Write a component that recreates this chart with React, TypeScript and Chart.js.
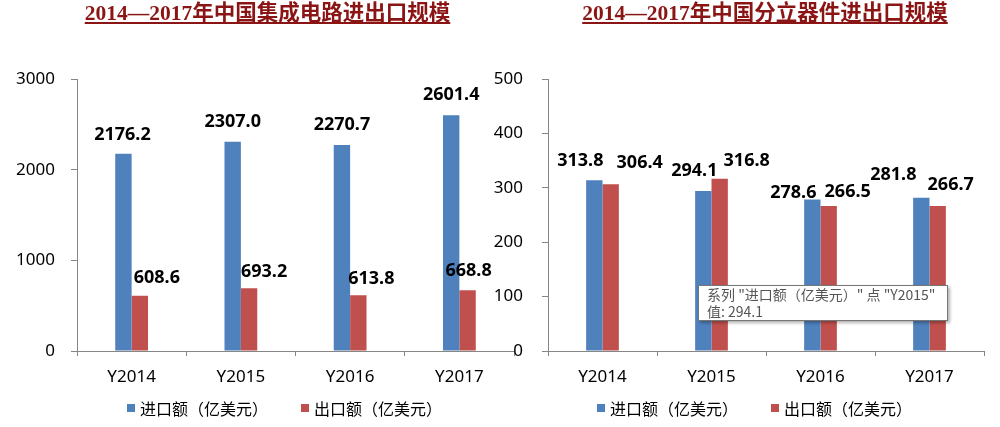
import React, { useEffect, useRef } from "react";
import { Chart, registerables } from "chart.js";

Chart.register(...registerables);

const categories = ["Y2014", "Y2015", "Y2016", "Y2017"];
const seriesNames = ["进口额（亿美元）", "出口额（亿美元）"];
const icImports = [2176.2, 2307.0, 2270.7, 2601.4];
const icExports = [608.6, 693.2, 613.8, 668.8];
const discreteImports = [313.8, 294.1, 278.6, 281.8];
const discreteExports = [306.4, 316.8, 266.5, 266.7];
const icAxis = { max: 3000, step: 1000 };
const discreteAxis = { max: 500, step: 100 };
const titles = ["2014—2017年中国集成电路进出口规模", "2014—2017年中国分立器件进出口规模"];

// label nudges [dx, dy-above-bar-top] (style only)
const icLabelNudge = [
  [[-1, 19], [0, 20], [0, 20], [0, 20]],
  [[17, 18], [15, 16], [13, 16], [1, 19]],
];
const discreteLabelNudge = [
  [[-14, 19], [-9, 20], [-19, 7], [-28, 23]],
  [[29, 21], [27, 18], [19, 14], [13, 21]],
];

const BLUE = "#4F81BD";
const RED = "#C0504D";
const AXIS = "#868686";
const FONT = "'Noto Sans', 'Noto Sans CJK SC', sans-serif";
const CJK = "'Noto Sans CJK SC', 'Noto Sans', sans-serif";

type BarProps = {
  imports: number[];
  exports: number[];
  max: number;
  step: number;
  width: number;
  yWidth: number;
  padRight: number;
  yTickPad: number;
  nudge: number[][][];
  left: number;
};

function BarChart(p: BarProps) {
  const ref = useRef<HTMLCanvasElement>(null);
  useEffect(() => {
    const labelPlugin = {
      id: "valueLabels",
      afterDatasetsDraw(chart: any) {
        const ctx = chart.ctx;
        ctx.save();
        ctx.font = `bold 18px ${FONT}`;
        ctx.fillStyle = "#000";
        ctx.textAlign = "center";
        ctx.textBaseline = "middle";
        chart.data.datasets.forEach((ds: any, i: number) => {
          const meta = chart.getDatasetMeta(i);
          meta.data.forEach((el: any, j: number) => {
            const v = ds.data[j] as number;
            const [dx, dy] = p.nudge[i][j];
            ctx.fillText(v.toFixed(1), el.x + dx, el.y - dy);
          });
        });
        ctx.restore();
      },
    };
    const chart = new Chart(ref.current as HTMLCanvasElement, {
      type: "bar",
      data: {
        labels: categories,
        datasets: [
          { label: seriesNames[0], data: p.imports, backgroundColor: BLUE, categoryPercentage: 0.3, barPercentage: 1 },
          { label: seriesNames[1], data: p.exports, backgroundColor: RED, categoryPercentage: 0.3, barPercentage: 1 },
        ],
      },
      options: {
        animation: false,
        responsive: false,
        maintainAspectRatio: false,
        layout: { padding: { top: 79, right: p.padRight, bottom: 0, left: 0 } },
        plugins: { legend: { display: false }, tooltip: { enabled: false }, title: { display: false } },
        scales: {
          x: {
            offset: true,
            grid: { offset: true, drawOnChartArea: false, tickLength: 5, color: AXIS },
            border: { color: AXIS },
            ticks: { font: { size: 17, family: FONT }, color: "#000", padding: 11, maxRotation: 0 },
            afterFit: (s: any) => { s.height = 76; },
          },
          y: {
            min: 0,
            max: p.max,
            ticks: {
              stepSize: p.step,
              font: { size: 17, family: FONT },
              color: "#000",
              padding: p.yTickPad,
              callback: (v: any) => String(v),
            },
            grid: { drawOnChartArea: false, tickLength: 6, color: AXIS },
            border: { color: AXIS },
            afterFit: (s: any) => { s.width = p.yWidth; },
          },
        },
      },
      plugins: [labelPlugin],
    } as any);
    return () => chart.destroy();
  }, []);
  return (
    <canvas
      ref={ref}
      width={p.width}
      height={427}
      style={{ position: "absolute", left: p.left, top: 0, width: p.width, height: 427 }}
    />
  );
}

function Title({ text, center }: { text: string; center: number }) {
  return (
    <div
      style={{
        position: "absolute",
        left: center - 250,
        width: 500,
        top: 0,
        textAlign: "center",
        font: `bold 21.5px 'Liberation Serif', 'Noto Sans CJK SC', serif`,
        lineHeight: "26px",
        color: "#8B1414",
        textDecoration: "underline",
        whiteSpace: "nowrap",
      }}
    >
      {text}
    </div>
  );
}

function Legend({ left }: { left: number }) {
  const sq = (c: string) => (
    <span style={{ display: "inline-block", width: 8, height: 8, background: c, marginRight: 5 }} />
  );
  return (
    <div
      style={{
        position: "absolute",
        left,
        top: 398,
        display: "flex",
        alignItems: "center",
        font: `16px ${CJK}`,
        lineHeight: "20px",
        color: "#000",
        whiteSpace: "nowrap",
      }}
    >
      {sq(BLUE)}
      <span>{seriesNames[0]}</span>
      <span style={{ display: "inline-block", width: 33 }} />
      {sq(RED)}
      <span>{seriesNames[1]}</span>
    </div>
  );
}

export default function App() {
  return (
    <div
      style={{
        position: "fixed",
        left: 0,
        top: 0,
        width: 1000,
        height: 427,
        overflow: "hidden",
        background: "#fff",
      }}
    >
      <BarChart
        imports={icImports}
        exports={icExports}
        max={icAxis.max}
        step={icAxis.step}
        width={520}
        yWidth={77}
        padRight={6}
        yTickPad={16}
        nudge={icLabelNudge}
        left={0}
      />
      <BarChart
        imports={discreteImports}
        exports={discreteExports}
        max={discreteAxis.max}
        step={discreteAxis.step}
        width={510}
        yWidth={58}
        padRight={16}
        yTickPad={19}
        nudge={discreteLabelNudge}
        left={490}
      />
      <Title text={titles[0]} center={267.5} />
      <Title text={titles[1]} center={765} />
      <Legend left={127} />
      <Legend left={597} />
      <div
        style={{
          position: "absolute",
          left: 698,
          top: 285,
          width: 250,
          height: 36,
          boxSizing: "border-box",
          border: "1px solid #767676",
          background: "#fff",
          boxShadow: "2px 2px 3px rgba(0,0,0,0.3)",
          font: `14px ${CJK}`,
          lineHeight: "17px",
          color: "#555",
          padding: "0 8px",
          whiteSpace: "nowrap",
        }}
      >
        <div>{`系列 "${seriesNames[0]}" 点 "${categories[1]}"`}</div>
        <div>{`值: ${discreteImports[1]}`}</div>
      </div>
    </div>
  );
}
